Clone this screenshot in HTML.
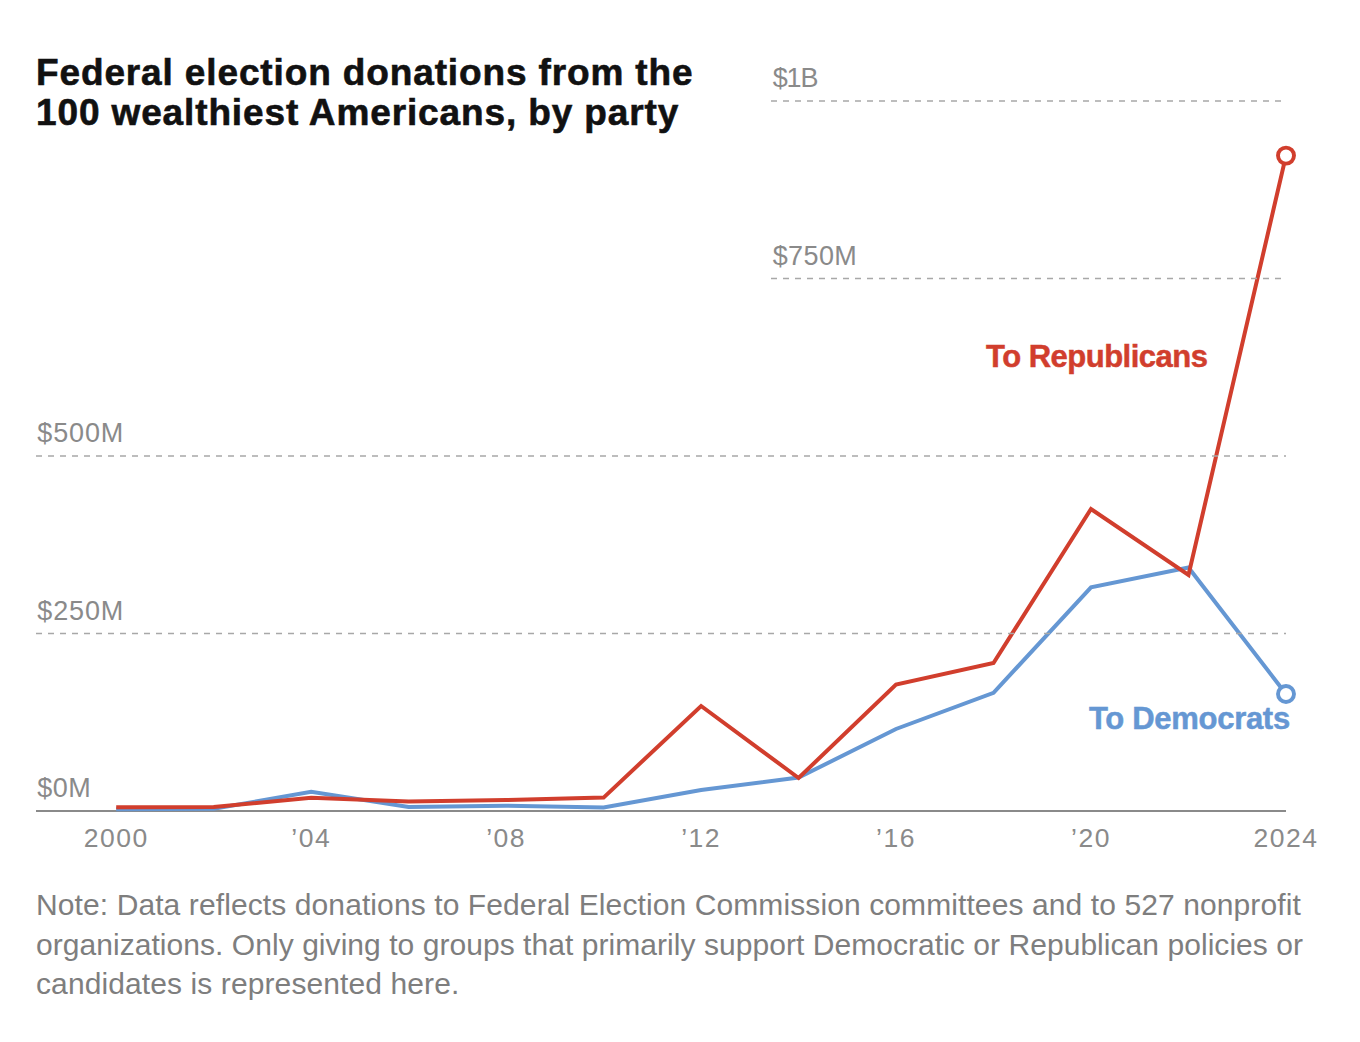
<!DOCTYPE html>
<html><head><meta charset="utf-8"><style>
html,body{margin:0;padding:0;background:#fff;}
body{width:1360px;height:1042px;position:relative;overflow:hidden;font-family:"Liberation Sans",sans-serif;}
.title{position:absolute;left:36px;top:0;font-weight:bold;font-size:37px;letter-spacing:0.87px;color:#111;line-height:40px;-webkit-text-stroke:0.6px #111;}
.note{position:absolute;left:36px;top:0;font-size:30px;letter-spacing:0.1px;color:#7e7e7e;line-height:39.7px;white-space:nowrap;}
svg{position:absolute;left:0;top:0;}
.yl{font-size:27px;fill:#8a8a8a;font-family:"Liberation Sans",sans-serif;}
.xl{font-size:26.5px;fill:#8a8a8a;letter-spacing:1.5px;font-family:"Liberation Sans",sans-serif;}
.lab{font-size:31px;font-weight:bold;font-family:"Liberation Sans",sans-serif;}
</style></head><body>
<svg width="1360" height="1042" viewBox="0 0 1360 1042">
<line x1="36" y1="810.9" x2="1286" y2="810.9" stroke="#8a8a8a" stroke-width="2"/>
<text x="772.7" y="86.9" class="yl" letter-spacing="-1.1">$1B</text>
<text x="772.7" y="265.0" class="yl" letter-spacing="0.4">$750M</text>
<text x="37.3" y="442.0" class="yl" letter-spacing="0.85">$500M</text>
<text x="37.3" y="620.0" class="yl" letter-spacing="0.85">$250M</text>
<text x="37.3" y="797.1" class="yl" letter-spacing="0.5">$0M</text>
<text x="116.2" y="847" class="xl" text-anchor="middle">2000</text>
<text x="311.2" y="847" class="xl" text-anchor="middle">’04</text>
<text x="506.1" y="847" class="xl" text-anchor="middle">’08</text>
<text x="701.1" y="847" class="xl" text-anchor="middle">’12</text>
<text x="896.0" y="847" class="xl" text-anchor="middle">’16</text>
<text x="1091.0" y="847" class="xl" text-anchor="middle">’20</text>
<text x="1286.0" y="847" class="xl" text-anchor="middle">2024</text>
<polyline points="116.2,809.3 213.7,808.8 311.2,791.8 408.6,807.0 506.1,805.7 603.6,807.5 701.1,790.0 798.6,777.6 896.0,729.0 993.5,692.8 1091.0,587.3 1188.5,567.5 1286.0,694.0" fill="none" stroke="#6597d3" stroke-width="4" stroke-linejoin="miter"/>
<polyline points="116.2,807.2 213.7,807.0 311.2,797.8 408.6,801.4 506.1,800.1 603.6,797.6 701.1,706.0 798.6,778.0 896.0,684.5 993.5,663.0 1091.0,509.0 1188.5,575.0 1286.0,155.6" fill="none" stroke="#d13e2d" stroke-width="4" stroke-linejoin="miter"/>
<line x1="771" y1="101.0" x2="1286" y2="101.0" stroke="#a8a8a8" stroke-width="1.5" stroke-dasharray="6 6"/>
<line x1="771" y1="278.5" x2="1286" y2="278.5" stroke="#a8a8a8" stroke-width="1.5" stroke-dasharray="6 6"/>
<line x1="36" y1="456.0" x2="1286" y2="456.0" stroke="#a8a8a8" stroke-width="1.5" stroke-dasharray="6 6"/>
<line x1="36" y1="633.5" x2="1286" y2="633.5" stroke="#a8a8a8" stroke-width="1.5" stroke-dasharray="6 6"/>
<circle cx="1286.0" cy="155.6" r="8" fill="#fff" stroke="#d13e2d" stroke-width="3.9"/>
<circle cx="1286.0" cy="694.0" r="8" fill="#fff" stroke="#6597d3" stroke-width="3.9"/>
<text x="986" y="366.7" class="lab" fill="#d13e2d" stroke="#d13e2d" stroke-width="0.5" letter-spacing="-0.5">To Republicans</text>
<text x="1089" y="728.5" class="lab" fill="#6597d3" stroke="#6597d3" stroke-width="0.5" letter-spacing="-0.3">To Democrats</text>
</svg>
<div class="title" style="top:0"><div style="position:absolute;top:53px;white-space:nowrap">Federal election donations from the</div><div style="position:absolute;top:93px;white-space:nowrap">100 wealthiest Americans, by party</div></div>
<div class="note" style="top:885px">Note: Data reflects donations to Federal Election Commission committees and to 527 nonprofit<br><span style="letter-spacing:0.05px">organizations. Only giving to groups that primarily support Democratic or Republican policies or</span><br>candidates is represented here.</div>
</body></html>
